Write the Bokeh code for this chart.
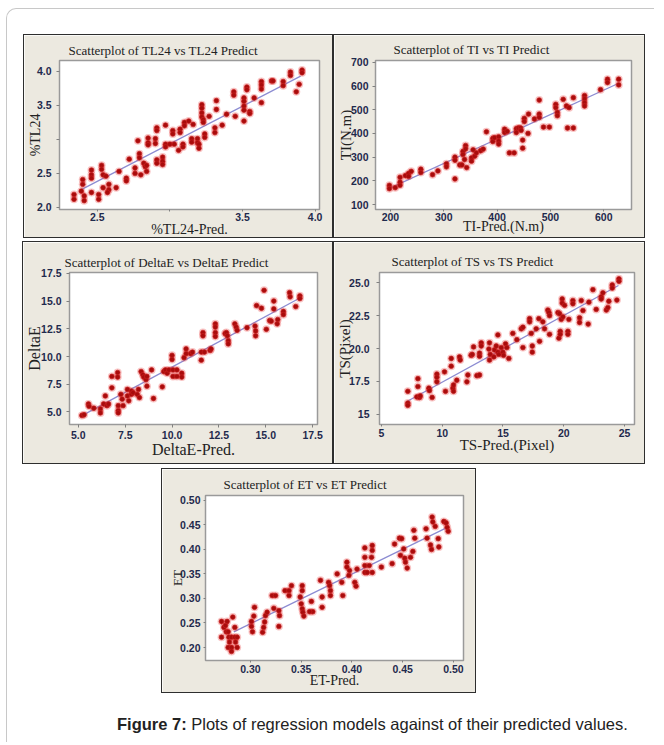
import numpy as np
from bokeh.plotting import figure
from bokeh.layouts import column, row
from bokeh.models import Spacer, Div, FixedTicker, Range1d
from bokeh.embed import file_html
from bokeh.resources import INLINE

# ---------------- data ----------------
tl24_pairs = [
    (2.34, 2.19), (2.34, 2.12), (2.40, 2.41), (2.40, 2.34), (2.41, 2.17), (2.41, 2.10), (2.39, 2.24),
    (2.46, 2.55), (2.46, 2.48), (2.46, 2.43), (2.46, 2.22),
    (2.53, 2.62), (2.53, 2.56), (2.54, 2.48), (2.51, 2.19), (2.51, 2.12), (2.54, 2.29), (2.56, 2.46),
    (2.58, 2.34), (2.58, 2.26), (2.57, 2.22), (2.63, 2.29), (2.65, 2.53), (2.70, 2.43), (2.70, 2.39),
    (2.72, 2.71), (2.76, 2.58), (2.76, 2.50), (2.78, 2.98), (2.79, 2.79), (2.79, 2.73), (2.80, 2.48),
    (2.82, 2.65), (2.83, 2.60), (2.84, 2.62), (2.84, 2.53), (2.85, 3.02), (2.85, 2.95), (2.85, 2.92),
    (2.90, 3.01), (2.90, 2.94), (2.91, 3.17), (2.91, 3.13), (2.91, 2.70), (2.91, 2.65),
    (2.95, 2.74), (2.95, 2.68), (2.95, 2.63), (2.97, 3.21), (2.97, 2.93), (2.97, 2.89), (3.00, 2.93),
    (3.02, 3.13), (3.02, 3.08), (3.03, 2.93), (3.06, 2.84), (3.07, 3.15), (3.07, 3.10), (3.09, 2.93), (3.09, 2.89),
    (3.10, 3.25), (3.10, 3.20), (3.13, 3.27), (3.15, 3.01), (3.15, 2.96), (3.16, 3.22), (3.19, 3.01), (3.19, 2.95),
    (3.20, 2.93), (3.20, 2.87), (3.22, 3.51), (3.22, 3.46), (3.22, 3.39), (3.22, 3.33), (3.23, 3.29), (3.23, 3.25),
    (3.24, 3.08), (3.24, 3.03), (3.27, 3.34), (3.31, 3.17), (3.31, 3.10), (3.32, 3.57), (3.32, 3.44), (3.36, 3.21),
    (3.39, 3.37), (3.44, 3.70), (3.44, 3.65), (3.45, 3.34), (3.51, 3.61), (3.51, 3.56), (3.51, 3.49), (3.51, 3.43),
    (3.51, 3.27), (3.53, 3.77), (3.53, 3.73), (3.55, 3.41), (3.55, 3.38), (3.58, 3.61), (3.63, 3.85), (3.63, 3.80),
    (3.63, 3.74), (3.63, 3.54), (3.70, 3.86), (3.71, 3.86), (3.78, 3.85), (3.78, 3.79), (3.83, 3.99), (3.83, 3.94),
    (3.87, 3.70), (3.89, 3.81), (3.91, 4.02), (3.91, 3.98),
]
tl24_fit_x = [2.38, 3.90]
tl24_fit_y = [2.25, 3.93]
tl24_xlim = [2.24, 4.03]
tl24_ylim = [1.97, 4.16]
tl24_xticks = [2.5, 3.0, 3.5, 4.0]
tl24_xlabels = ["2.5", "", "3.5", "4.0"]
tl24_yticks = [2.0, 2.5, 3.0, 3.5, 4.0]
tl24_ylabels = ["2.0", "2.5", "", "3.5", "4.0"]

ti_pairs = [
    (198, 181), (198, 167), (209, 171), (218, 194), (218, 181), (218, 215), (228, 222), (234, 231), (234, 219), (239, 240),
    (257, 249), (257, 235), (279, 226), (289, 242), (305, 272), (305, 259), (321, 300), (321, 287), (321, 208),
    (330, 267), (334, 267), (336, 324), (336, 311), (341, 349), (341, 335), (339, 290), (343, 256), (352, 297), (352, 283),
    (355, 331), (358, 304), (361, 318), (369, 327), (374, 334), (380, 407), (392, 379), (392, 366), (395, 382),
    (403, 386), (403, 368), (403, 355), (414, 418), (414, 404), (419, 409), (423, 318), (432, 318), (436, 420), (436, 404),
    (440, 423), (444, 423), (445, 413), (448, 372), (448, 338), (451, 464), (451, 450), (458, 400), (459, 482), (470, 461),
    (479, 541), (479, 482), (479, 468), (487, 427), (498, 427), (510, 523), (510, 509), (513, 489), (513, 475), (524, 544),
    (530, 516), (535, 509), (532, 423), (543, 423), (543, 551), (564, 560), (564, 546), (564, 530), (564, 516), (594, 585),
    (607, 629), (607, 615), (628, 629), (628, 605),
]
ti_fit_x = [200, 628]
ti_fit_y = [170, 612]
ti_xlim = [172, 652]
ti_ylim = [79, 708]
ti_xticks = [200, 300, 400, 500, 600]
ti_xlabels = ["200", "300", "400", "500", "600"]
ti_yticks = [100, 200, 300, 400, 500, 600, 700]
ti_ylabels = ["100", "200", "300", "400", "500", "600", "700"]

de_pairs = [
    (5.19, 4.68), (5.31, 4.74), (5.54, 5.71), (5.57, 5.50), (5.83, 5.33), (6.18, 5.27), (6.18, 4.91), (6.35, 5.71),
    (6.44, 6.44), (6.53, 5.56), (6.61, 5.71), (6.79, 8.20), (6.79, 7.17), (7.10, 8.55), (7.10, 8.14), (7.13, 5.56),
    (7.13, 5.12), (7.13, 4.91), (7.27, 6.59), (7.34, 6.15), (7.39, 5.56), (7.62, 7.03), (7.62, 6.44), (7.69, 6.00),
    (7.83, 6.88), (7.83, 6.59), (7.92, 6.73), (8.14, 6.59), (8.21, 7.03), (8.26, 6.29), (8.35, 8.64), (8.44, 8.35),
    (8.49, 8.14), (8.61, 7.91), (8.66, 8.20), (8.66, 7.32), (8.91, 8.79), (9.01, 6.21), (9.48, 7.26), (9.56, 8.64),
    (9.65, 8.79), (9.74, 8.49), (9.83, 8.79), (10.00, 10.11), (10.00, 9.73), (10.05, 8.79), (10.05, 8.20), (10.26, 8.79),
    (10.26, 8.20), (10.52, 8.49), (10.52, 8.14), (10.64, 9.90), (10.75, 10.69), (10.75, 10.26), (10.99, 10.26),
    (11.09, 10.40), (11.56, 10.40), (11.56, 9.67), (11.65, 12.16), (11.65, 11.87), (11.73, 10.40), (12.03, 10.55),
    (12.08, 10.69), (12.31, 12.95), (12.31, 12.66), (12.31, 12.16), (12.31, 11.81), (12.83, 12.07), (12.90, 12.16),
    (12.95, 11.87), (13.00, 11.43), (13.00, 11.14), (13.35, 12.95), (13.42, 12.66), (13.47, 12.37), (14.00, 12.60),
    (14.43, 12.75), (14.46, 12.31), (14.46, 11.87), (14.51, 14.60), (14.77, 14.36), (14.91, 15.98), (15.03, 12.46),
    (15.21, 13.25), (15.29, 13.19), (15.43, 15.01), (15.43, 14.30), (15.61, 12.95), (15.64, 13.34), (15.94, 14.07),
    (15.94, 13.78), (16.27, 15.77), (16.30, 15.39), (16.60, 14.51), (16.82, 15.48), (16.82, 15.24),
]
de_fit_x = [5.22, 16.77]
de_fit_y = [4.68, 15.24]
de_xlim = [4.53, 17.76]
de_ylim = [3.86, 17.59]
de_xticks = [5.0, 7.5, 10.0, 12.5, 15.0, 17.5]
de_xlabels = ["5.0", "7.5", "10.0", "12.5", "15.0", "17.5"]
de_yticks = [5.0, 7.5, 10.0, 12.5, 15.0, 17.5]
de_ylabels = ["5.0", "7.5", "10.0", "12.5", "15.0", "17.5"]

ts_pairs = [
    (7.17, 16.74), (7.17, 15.84), (7.17, 15.67), (8.00, 17.70), (8.00, 17.10), (7.91, 16.31), (8.13, 16.27), (8.19, 16.39),
    (8.90, 16.98), (8.95, 16.79), (9.17, 16.27), (9.56, 18.05), (9.56, 17.81), (9.56, 17.46), (10.19, 18.22), (10.27, 16.74),
    (10.74, 19.24), (10.74, 18.65), (10.88, 16.98), (10.93, 16.74), (10.93, 17.22), (11.20, 17.58), (11.42, 19.36),
    (11.48, 19.12), (12.03, 17.46), (12.11, 17.98), (12.38, 19.48), (12.47, 19.55), (12.58, 20.12), (12.85, 17.93),
    (13.07, 17.98), (13.07, 19.65), (13.07, 19.41), (13.21, 20.43), (13.21, 20.19), (13.89, 20.43), (13.84, 19.96),
    (13.95, 19.55), (13.89, 19.12), (14.25, 19.36), (14.30, 19.89), (14.44, 20.19), (14.58, 21.03), (14.58, 19.72),
    (14.66, 19.55), (14.85, 20.07), (14.99, 19.72), (15.05, 19.48), (15.21, 20.36), (15.32, 20.07), (15.48, 19.24),
    (15.81, 21.15), (16.14, 20.67), (16.50, 21.50), (16.64, 21.62), (16.64, 20.07), (17.19, 22.27), (17.19, 22.03),
    (17.32, 21.15), (17.41, 20.19), (17.41, 19.72), (17.73, 21.50), (17.95, 22.27), (18.01, 20.55), (18.28, 22.03),
    (18.42, 21.50), (18.69, 22.93), (18.78, 22.74), (18.83, 22.50), (18.83, 21.08), (19.60, 20.79), (19.52, 22.74),
    (19.65, 22.65), (19.79, 22.22), (19.93, 22.41), (19.87, 23.77), (19.87, 23.46), (20.07, 23.29), (19.71, 21.31),
    (19.71, 21.08), (20.42, 22.22), (20.34, 21.31), (20.34, 21.08), (20.75, 23.65), (20.75, 23.41), (21.30, 22.34),
    (21.30, 21.98), (21.44, 23.65), (21.58, 22.89), (22.01, 21.86), (22.07, 23.53), (22.40, 24.48), (22.67, 22.98),
    (23.08, 23.93), (23.08, 23.77), (23.22, 24.24), (23.50, 22.93), (23.63, 23.12), (23.71, 23.60), (23.99, 24.84),
    (23.99, 24.60), (24.37, 23.69), (24.54, 25.31), (24.54, 25.12),
]
ts_fit_x = [7.17, 24.5]
ts_fit_y = [16.0, 24.8]
ts_xlim = [4.84, 25.82]
ts_ylim = [14.21, 25.79]
ts_xticks = [5, 10, 15, 20, 25]
ts_xlabels = ["5", "10", "15", "20", "25"]
ts_yticks = [15.0, 17.5, 20.0, 22.5, 25.0]
ts_ylabels = ["15", "17.5", "20.0", "22.5", "25.0"]

et_pairs = [
    (0.2715, 0.253), (0.2715, 0.221), (0.2738, 0.241), (0.2754, 0.245), (0.2761, 0.232), (0.2780, 0.232), (0.2770, 0.253),
    (0.2787, 0.221), (0.2813, 0.221), (0.2846, 0.221), (0.2869, 0.221), (0.2793, 0.211), (0.2853, 0.211), (0.2780, 0.200),
    (0.2813, 0.200), (0.2813, 0.192), (0.2869, 0.200), (0.2826, 0.262), (0.2846, 0.241), (0.3010, 0.253), (0.3010, 0.243),
    (0.3020, 0.232), (0.3040, 0.282), (0.3033, 0.264), (0.3120, 0.231), (0.3130, 0.241), (0.3140, 0.252), (0.3148, 0.265),
    (0.3164, 0.272), (0.3214, 0.306), (0.3247, 0.306), (0.3230, 0.280), (0.3280, 0.275), (0.3286, 0.265), (0.3280, 0.243),
    (0.3340, 0.316), (0.3380, 0.316), (0.3380, 0.306), (0.3404, 0.326), (0.3510, 0.326), (0.3510, 0.316), (0.3490, 0.303),
    (0.3500, 0.289), (0.3510, 0.279), (0.3516, 0.272), (0.3526, 0.264), (0.3600, 0.294), (0.3614, 0.273), (0.3582, 0.273),
    (0.3690, 0.337), (0.3706, 0.303), (0.3706, 0.282), (0.3770, 0.333), (0.3780, 0.326), (0.3788, 0.316), (0.3788, 0.306),
    (0.3854, 0.350), (0.3900, 0.333), (0.3910, 0.306), (0.3950, 0.374), (0.3950, 0.364), (0.3970, 0.347), (0.3976, 0.357),
    (0.4028, 0.333), (0.4040, 0.325), (0.4050, 0.360), (0.4127, 0.403), (0.4127, 0.384), (0.4127, 0.367), (0.4127, 0.353),
    (0.4150, 0.353), (0.4200, 0.353), (0.4200, 0.408), (0.4200, 0.398), (0.4193, 0.384), (0.4170, 0.367), (0.4290, 0.364),
    (0.4396, 0.371), (0.4420, 0.411), (0.4468, 0.423), (0.4478, 0.388), (0.4490, 0.422), (0.4510, 0.401), (0.4520, 0.382),
    (0.4527, 0.374), (0.4544, 0.362), (0.4577, 0.384), (0.4600, 0.396), (0.4610, 0.439), (0.4619, 0.423), (0.4730, 0.442),
    (0.4740, 0.423), (0.4774, 0.409), (0.4784, 0.400), (0.4790, 0.466), (0.4797, 0.456), (0.4820, 0.447), (0.4850, 0.422),
    (0.4856, 0.405), (0.4905, 0.457), (0.4928, 0.454), (0.4938, 0.445), (0.4948, 0.437),
]
et_fit_x = [0.2836, 0.494]
et_fit_y = [0.232, 0.445]
et_xlim = [0.2557, 0.5099]
et_ylim = [0.1735, 0.510]
et_xticks = [0.30, 0.35, 0.40, 0.45, 0.50]
et_xlabels = ["0.30", "0.35", "0.40", "0.45", "0.50"]
et_yticks = [0.20, 0.25, 0.30, 0.35, 0.40, 0.45, 0.50]
et_ylabels = ["0.20", "0.25", "0.30", "0.35", "0.40", "0.45", "0.50"]

caption_bold = "Figure 7:"
caption_rest = "Plots of regression models against of their predicted values."

# ---------------- styling ----------------
PANEL_BG = "#ece9e0"
TICK_COLOR = "#1f2a4d"
SERIF = "Liberation Serif"
SANS = "Liberation Sans"


def make_panel(pairs, fit_x, fit_y, xlim, ylim, xticks, xlabels, yticks, ylabels,
               title, xlab, ylab, L):
    xs = [a for a, b in pairs]
    ys = [b for a, b in pairs]
    p = figure(width=L["w"], height=L["h"],
               x_range=Range1d(*xlim), y_range=Range1d(*ylim),
               output_backend="svg", toolbar_location=None,
               min_border_left=L["ml"], min_border_right=L["mr"],
               min_border_top=L["mt"], min_border_bottom=L["mb"],
               background_fill_color="white", border_fill_color=PANEL_BG,
               styles={"border": "1.5px solid #2e2e2e", "box-sizing": "border-box"})
    p.outline_line_color = "#9a9a9a"
    p.outline_line_width = 1.5
    p.grid.visible = False

    p.title.text = title
    p.title.text_font = SERIF
    p.title.text_font_size = L.get("tfs", "13px")
    p.title.text_font_style = "normal"
    p.title.text_color = "#222222"
    p.title.align = "left"
    p.title.offset = L["toff"]
    p.title.standoff = L["tstd"]

    p.xaxis.ticker = FixedTicker(ticks=xticks)
    p.yaxis.ticker = FixedTicker(ticks=yticks)
    p.xaxis.major_label_overrides = dict(zip(xticks, xlabels))
    p.yaxis.major_label_overrides = dict(zip(yticks, ylabels))
    for ax in (p.xaxis[0], p.yaxis[0]):
        ax.axis_line_color = None
        ax.major_tick_line_color = "#808080"
        ax.major_tick_in = 0
        ax.minor_tick_line_color = None
        ax.major_label_text_font = SANS
        ax.major_label_text_font_style = "bold"
        ax.major_label_text_font_size = "10.5px"
        ax.major_label_text_color = TICK_COLOR
        ax.axis_label_text_font = SERIF
        ax.axis_label_text_font_style = "normal"
        ax.axis_label_text_color = "#222222"
    p.xaxis.axis_label = xlab
    p.yaxis.axis_label = ylab
    p.xaxis.major_tick_out = L["xto"]
    p.xaxis.major_label_standoff = L["xls"]
    p.xaxis.axis_label_standoff = L["xas"]
    p.xaxis.axis_label_text_font_size = L["xfs"]
    p.yaxis.major_tick_out = L["yto"]
    p.yaxis.major_label_standoff = L["yls"]
    p.yaxis.axis_label_standoff = L["yas"]
    p.yaxis.axis_label_text_font_size = L["yfs"]

    p.line(fit_x, fit_y, line_color="#8c8cd2", line_width=1.3)
    p.scatter(xs, ys, size=8, fill_color="#e83a3a", fill_alpha=0.3, line_color=None)
    p.scatter(xs, ys, size=4.8, fill_color="#a80c0c", line_color="#c81e1e", line_width=0.7)
    return p


p1 = make_panel(tl24_pairs, tl24_fit_x, tl24_fit_y, tl24_xlim, tl24_ylim,
                tl24_xticks, tl24_xlabels, tl24_yticks, tl24_ylabels,
                "Scatterplot of TL24 vs TL24 Predict", "%TL24-Pred.", "%TL24",
                dict(w=310, h=204, ml=34, mr=15, mt=23, mb=29, toff=9, tstd=5,
                     xto=2, xls=1, xas=-2, xfs="14px", yto=3, yls=5, yas=-9, yfs="14px"))
p2 = make_panel(ti_pairs, ti_fit_x, ti_fit_y, ti_xlim, ti_ylim,
                ti_xticks, ti_xlabels, ti_yticks, ti_ylabels,
                "Scatterplot of TI vs TI Predict", "TI-Pred.(N.m)", "TI(N.m)",
                dict(w=312, h=204, ml=38, mr=15, mt=25, mb=26, toff=18, tstd=7,
                     xto=2, xls=1, xas=-5, xfs="14px", yto=3, yls=4, yas=-6, yfs="15px"))
p3 = make_panel(de_pairs, de_fit_x, de_fit_y, de_xlim, de_ylim,
                de_xticks, de_xlabels, de_yticks, de_ylabels,
                "Scatterplot of DeltaE vs DeltaE Predict", "DeltaE-Pred.", "DeltaE",
                dict(w=311, h=223, ml=40, mr=17, mt=26, mb=41, toff=-5, tstd=5,
                     xto=3, xls=3, xas=-1, xfs="16px", yto=3, yls=5, yas=-5, yfs="16px"))
p4 = make_panel(ts_pairs, ts_fit_x, ts_fit_y, ts_xlim, ts_ylim,
                ts_xticks, ts_xlabels, ts_yticks, ts_ylabels,
                "Scatterplot of TS vs TS Predict", "TS-Pred.(Pixel)", "TS(Pixel)",
                dict(w=312, h=223, ml=44, mr=12, mt=30, mb=31, toff=12, tstd=7,
                     xto=2, xls=2, xas=-3, xfs="15px", yto=3, yls=7, yas=-7, yfs="15px"))
p5 = make_panel(et_pairs, et_fit_x, et_fit_y, et_xlim, et_ylim,
                et_xticks, et_xlabels, et_yticks, et_ylabels,
                "Scatterplot of ET vs ET Predict", "ET-Pred.", "ET",
                dict(w=315, h=225, ml=43, mr=14, mt=26, mb=34, toff=18, tstd=7,
                     xto=2, xls=2, xas=-3, xfs="14px", yto=2, yls=3, yas=-8, yfs="13px"))

caption = Div(text=f"<b>{caption_bold}</b> {caption_rest}", width=540, height=24,
              styles={"font-family": "Liberation Sans, Arial, sans-serif", "font-size": "16.5px",
                      "color": "#222222", "white-space": "nowrap"})

layout = column(
    Spacer(height=25),
    row(Spacer(width=16), p1, p2),
    Spacer(height=3),
    row(Spacer(width=15), p3, p4),
    Spacer(height=4),
    row(Spacer(width=154), p5),
    Spacer(height=15),
    row(Spacer(width=105), caption),
    styles={"border-left": "1px solid #c8c8c8", "border-top": "1px solid #c8c8c8",
            "border-top-left-radius": "10px", "background": "white"},
    width=648,
    margin=(8, 0, 0, 6),
)

open("out.html", "w").write(file_html(layout, INLINE))
